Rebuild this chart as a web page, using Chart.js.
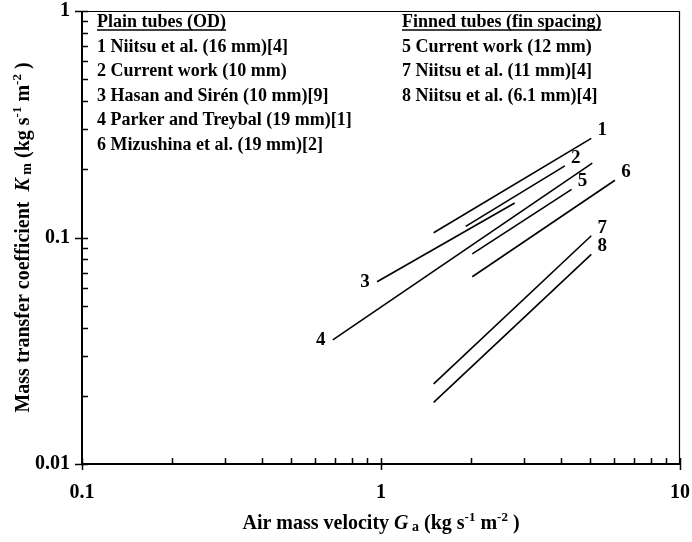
<!DOCTYPE html>
<html>
<head>
<meta charset="utf-8">
<script src="https://cdn.jsdelivr.net/npm/chart.js@4.4.1/dist/chart.umd.min.js"></script>
<style>
  html, body { margin: 0; padding: 0; background: #ffffff; }
  #wrap { width: 692px; height: 542px; }
</style>
</head>
<body>
<div id="wrap"><canvas id="c" width="692" height="542"></canvas></div>
<script>
// ---- Data ----
const seriesLabels = ['1', '2', '3', '4', '5', '6', '7', '8'];
const x1 = [1.5, 5.05];  const y1 = [0.105, 0.274];
const x2 = [1.92, 4.12]; const y2 = [0.112, 0.207];
const x3 = [0.97, 2.8];  const y3 = [0.0638, 0.142];
const x4 = [0.69, 5.09]; const y4 = [0.0353, 0.213];
const x5 = [2.02, 4.34]; const y5 = [0.0846, 0.163];
const x6 = [2.02, 6.06]; const y6 = [0.0671, 0.179];
const x7 = [1.5, 5.05];  const y7 = [0.0226, 0.1018];
const x8 = [1.5, 5.05];  const y8 = [0.0187, 0.0843];
const xs = [x1, x2, x3, x4, x5, x6, x7, x8];
const ys = [y1, y2, y3, y4, y5, y6, y7, y8];
// which end of the line carries the number label (1 = upper/right end, 0 = lower/left end)
const labelEnd = [1, 1, 0, 0, 1, 1, 1, 1];

const xTickValues = [0.1, 1, 10];
const yTickValues = [0.01, 0.1, 1];

const plainHeader = 'Plain tubes (OD)';
const plainItems = ['1 Niitsu et al. (16 mm)[4]', '2 Current work (10 mm)', '3 Hasan and Sirén (10 mm)[9]',
                    '4 Parker and Treybal (19 mm)[1]', '6 Mizushina et al. (19 mm)[2]'];
const finnedHeader = 'Finned tubes (fin spacing)';
const finnedItems = ['5 Current work (12 mm)', '7 Niitsu et al. (11 mm)[4]', '8 Niitsu et al. (6.1 mm)[4]'];

// ---- Styling ----
const SERIF = '"Liberation Serif", "Times New Roman", serif';
const F = (sz, style) => (style || 'bold') + ' ' + sz + 'px ' + SERIF;

const datasets = seriesLabels.map((lab, i) => ({
  label: lab,
  data: xs[i].map((xv, k) => ({ x: xv, y: ys[i][k] })),
  showLine: true,
  borderColor: '#000000',
  borderWidth: 1.6,
  pointRadius: 0,
  fill: false
}));

function minorValues(min, max) {
  const out = [];
  for (let d = min; d < max * 0.999; d *= 10) {
    for (let m = 2; m <= 9; m++) out.push(d * m);
  }
  return out;
}

function drawRich(ctx, parts, x, y, align) {
  let total = 0;
  parts.forEach(p => { ctx.font = p.font; total += ctx.measureText(p.t).width; });
  let cx = align === 'center' ? x - total / 2 : x;
  parts.forEach(p => {
    ctx.font = p.font;
    ctx.fillText(p.t, cx, y + (p.dy || 0));
    cx += ctx.measureText(p.t).width;
  });
}

const decorPlugin = {
  id: 'decor',
  afterDraw(chart) {
    const ctx = chart.ctx;
    const xs_ = chart.scales.x, ys_ = chart.scales.y;
    const a = chart.chartArea;
    ctx.save();
    ctx.strokeStyle = '#000';
    ctx.fillStyle = '#000';
    ctx.lineCap = 'butt';

    // frame (top/right thin), axes (left/bottom thick)
    ctx.lineWidth = 1.2;
    ctx.beginPath();
    ctx.moveTo(a.left, a.top + 0.5); ctx.lineTo(a.right, a.top + 0.5);
    ctx.moveTo(a.right - 0.5, a.top); ctx.lineTo(a.right - 0.5, a.bottom);
    ctx.stroke();
    ctx.lineWidth = 2;
    ctx.beginPath();
    ctx.moveTo(a.left, a.top); ctx.lineTo(a.left, a.bottom);
    ctx.moveTo(a.left - 1, a.bottom); ctx.lineTo(a.right, a.bottom);
    ctx.stroke();

    // ticks
    ctx.lineWidth = 1.5;
    ctx.beginPath();
    minorValues(0.01, 1).forEach(v => {
      const py = Math.round(ys_.getPixelForValue(v)) + 0.5;
      ctx.moveTo(a.left, py); ctx.lineTo(a.left + 6, py);
    });
    yTickValues.forEach(v => {
      const py = Math.round(ys_.getPixelForValue(v)) + 0.5;
      ctx.moveTo(a.left - 7, py); ctx.lineTo(a.left + 6, py);
    });
    minorValues(0.1, 10).forEach(v => {
      const px = Math.round(xs_.getPixelForValue(v)) + 0.5;
      ctx.moveTo(px, a.bottom); ctx.lineTo(px, a.bottom - 6);
    });
    xTickValues.forEach(v => {
      const px = Math.round(xs_.getPixelForValue(v)) + 0.5;
      ctx.moveTo(px, a.bottom + 6); ctx.lineTo(px, a.bottom - 6);
    });
    ctx.stroke();

    // line number labels
    ctx.font = F(19);
    ctx.textAlign = 'center';
    ctx.textBaseline = 'middle';
    seriesLabels.forEach((lab, i) => {
      const k = labelEnd[i] ? 1 : 0;
      const px = xs_.getPixelForValue(xs[i][k]);
      const py = ys_.getPixelForValue(ys[i][k]);
      const off = labelEnd[i] ? [11, -8] : [-12, 0];
      ctx.fillText(lab, px + off[0], py + off[1]);
    });

    // legend text blocks
    ctx.textAlign = 'left';
    ctx.textBaseline = 'alphabetic';
    const lh = 24.6;
    const drawBlock = (header, items, x0, y0) => {
      ctx.font = F(18);
      ctx.fillText(header, x0, y0);
      const w = ctx.measureText(header).width;
      ctx.lineWidth = 1.3;
      ctx.beginPath();
      ctx.moveTo(x0, y0 + 3); ctx.lineTo(x0 + w, y0 + 3);
      ctx.stroke();
      items.forEach((t, j) => ctx.fillText(t, x0, y0 + lh * (j + 1)));
    };
    drawBlock(plainHeader, plainItems, 97, 27);
    drawBlock(finnedHeader, finnedItems, 402, 27);

    // x-axis title
    ctx.textAlign = 'left';
    drawRich(ctx, [
      { t: 'Air mass velocity ', font: F(20) },
      { t: 'G', font: F(20, 'italic bold') },
      { t: ' a', font: F(14), dy: 2 },
      { t: ' (kg s', font: F(20) },
      { t: '-1', font: F(13), dy: -8 },
      { t: ' m', font: F(20) },
      { t: '-2', font: F(13), dy: -8 },
      { t: ' )', font: F(20) }
    ], (a.left + a.right) / 2, 529, 'center');

    // y-axis title (rotated)
    ctx.save();
    ctx.translate(29, (a.top + a.bottom) / 2);
    ctx.rotate(-Math.PI / 2);
    drawRich(ctx, [
      { t: 'Mass transfer coefficient  ', font: F(20) },
      { t: 'K', font: F(20, 'italic bold') },
      { t: ' m', font: F(14), dy: 2 },
      { t: ' (kg s', font: F(20) },
      { t: '-1', font: F(13), dy: -8 },
      { t: ' m', font: F(20) },
      { t: '-2', font: F(13), dy: -8 },
      { t: ' )', font: F(20) }
    ], 0, 0, 'center');
    ctx.restore();

    ctx.restore();
  }
};

new Chart(document.getElementById('c'), {
  type: 'scatter',
  data: { datasets },
  options: {
    responsive: false,
    animation: false,
    devicePixelRatio: 1,
    layout: { padding: { left: 0, right: 12, top: 11, bottom: 0 } },
    plugins: { legend: { display: false }, tooltip: { enabled: false }, title: { display: false } },
    scales: {
      x: {
        type: 'logarithmic', min: 0.1, max: 10, position: 'bottom',
        grid: { display: false, drawTicks: false },
        border: { display: false },
        afterBuildTicks: s => { s.ticks = xTickValues.map(v => ({ value: v })); },
        afterFit: s => { s.height = 78; s.paddingLeft = 0; s.paddingRight = 0; },
        ticks: {
          autoSkip: false, maxRotation: 0, padding: 17, color: '#000',
          font: { family: SERIF, size: 20, weight: 'bold' },
          callback: v => String(v)
        }
      },
      y: {
        type: 'logarithmic', min: 0.01, max: 1,
        grid: { display: false, drawTicks: false },
        border: { display: false },
        afterBuildTicks: s => { s.ticks = yTickValues.map(v => ({ value: v })); },
        afterFit: s => { s.width = 82; s.paddingTop = 0; s.paddingBottom = 0; },
        ticks: {
          autoSkip: false, padding: 12, color: '#000',
          font: { family: SERIF, size: 20, weight: 'bold' },
          callback: v => String(v)
        }
      }
    }
  },
  plugins: [decorPlugin]
});
</script>
</body>
</html>
